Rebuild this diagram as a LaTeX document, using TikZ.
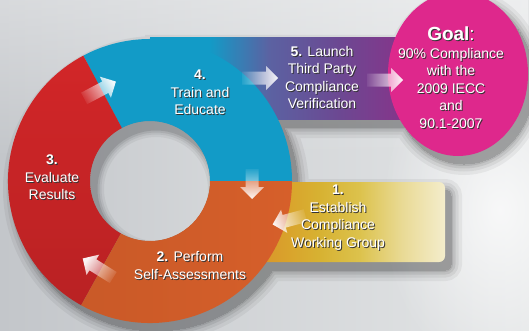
\documentclass[tikz,border=0pt]{standalone}
\usepackage{fontspec}
\setmainfont{Liberation Sans}
\usetikzlibrary{fadings,calc}
\definecolor{bgL}{HTML}{C3C6CA}
\definecolor{bgR}{HTML}{E4E6E7}
\definecolor{ringblue}{HTML}{129BC7}
\definecolor{ringred}{HTML}{D22628}
\definecolor{ringorange}{HTML}{D65F2A}
\definecolor{goalpink}{HTML}{DE288C}
\definecolor{bandB}{HTML}{5B62A2}
\definecolor{bandC}{HTML}{6C4892}
\definecolor{bandD}{HTML}{8C3088}
\definecolor{goldA}{HTML}{D8902A}
\definecolor{goldB}{HTML}{D9A42C}
\definecolor{goldC}{HTML}{D7B232}
\definecolor{goldD}{HTML}{DCC24C}
\definecolor{goldE}{HTML}{E9DA95}
\definecolor{goldF}{HTML}{F4EDCC}
\definecolor{tshadow}{HTML}{333333}
\pgfdeclarehorizontalshading{bandshade}{100bp}{color(0bp)=(ringblue); color(25bp)=(ringblue); color(36bp)=(ringblue); color(47bp)=(bandB); color(60bp)=(bandC); color(75bp)=(bandD); color(100bp)=(bandD)}
\pgfdeclarehorizontalshading{goldshade}{100bp}{color(0bp)=(goldA); color(25bp)=(goldA); color(35bp)=(goldB); color(43bp)=(goldC); color(53bp)=(goldD); color(64bp)=(goldE); color(75bp)=(goldF); color(100bp)=(goldF)}
\tikzfading[name=arrowfade, left color=transparent!92, right color=transparent!5]
\tikzfading[name=glowfade, inner color=transparent!0, outer color=transparent!100]
\tikzfading[name=topfade, top color=transparent!0, bottom color=transparent!100]
\newcommand\sh[1]{\leavevmode\rlap{\kern1pt\raisebox{-1pt}{\textcolor{tshadow}{#1}}}#1}
\newcommand\blockarrow[4]{% x, y, angle, length
  \begin{scope}[shift={(#1,#2)}, rotate=#3]
    \fill[white, path fading=arrowfade, fading angle=#3]
      (-#4/2,-6.5) -- (#4/2-12,-6.5) -- (#4/2-12,-12) -- (#4/2,0)
      -- (#4/2-12,12) -- (#4/2-12,6.5) -- (-#4/2,6.5) -- cycle;
  \end{scope}}
\tikzset{
  txt/.style={text=white, align=center, inner sep=0pt,
    font=\fontsize{14}{17.5}\selectfont}
}
\begin{document}
\begin{tikzpicture}[x=1pt,y=1pt]
\useasboundingbox (0,0) rectangle (529,330);
% background
\shade[left color=bgL, right color=bgR] (0,0) rectangle (529,330);
\fill[white, opacity=0.35, path fading=topfade] (0,170) rectangle (529,330);
\fill[white, opacity=0.75, path fading=glowfade] (500,120) ellipse[x radius=120, y radius=170];
\coordinate (C) at (150,149);
% soft shadows
\foreach \w/\o in {22/0.05,15/0.06,9/0.08,4/0.09,0/0.11}{
  \begin{scope}[transparency group, opacity=\o, shift={(156,141)}]
    \fill[black, draw=black, line width=\w pt] (0,0) circle[radius=142];
    \fill[black, draw=black, line width=\w pt] (0,143) rectangle (270,62);
    \fill[black, draw=black, line width=\w pt, rounded corners=6pt] (100,-1) rectangle (295,-81);
    \fill[black, draw=black, line width=\w pt] (308,107) ellipse[x radius=70, y radius=82];
  \end{scope}
}
% the hole
\begin{scope}
  \clip (C) circle[radius=60];
  \shade[left color=bgL!80!bgR, right color=bgL!50!bgR] (90,89) rectangle (210,209);
  \foreach \w/\o in {16/0.05,11/0.06,7/0.08,3/0.10}{
    \fill[black, opacity=\o, even odd rule] (C) circle[radius=80]
      ($(C)+(6,-8)$) circle[radius=60-\w/2];
  }
\end{scope}
% purple band
\shade[shading=bandshade] (150,292) rectangle (420,211);
% goal circle
\fill[goalpink] (458,256) ellipse[x radius=70, y radius=82];
% yellow band
\shade[shading=goldshade, rounded corners=6pt] (250,148) rectangle (445,68);
% ring segments
\fill[ringblue] ($(C)+(0:142)$) arc[start angle=0,end angle=118,radius=142]
  -- ($(C)+(118:60)$) arc[start angle=118,end angle=0,radius=60] -- cycle;
\shade[top color=ringred, bottom color=ringred!88!black]
  ($(C)+(118:142)$) arc[start angle=118,end angle=241,radius=142]
  -- ($(C)+(241:60)$) arc[start angle=241,end angle=118,radius=60] -- cycle;
\shade[left color=ringorange!94!black, right color=ringorange]
  ($(C)+(241:142)$) arc[start angle=241,end angle=360,radius=142]
  -- ($(C)+(360:60)$) arc[start angle=360,end angle=241,radius=60] -- cycle;
% arrows
\blockarrow{100}{240}{28}{36}
\blockarrow{260}{252}{0}{36}
\blockarrow{385}{250}{0}{36}
\blockarrow{252}{146}{-90}{30}
\blockarrow{289}{110}{195}{34}
\blockarrow{98}{62}{148}{36}
% texts
\node[txt] (t4) at (200,237) {\sh{\textbf{4.}}\\\sh{Train and}\\\sh{Educate}};
\node[txt] (t5) at (322,252) {\sh{\textbf{5.} Launch}\\\sh{Third Party}\\\sh{Compliance}\\\sh{Verification}};
\node[txt] (goal) at (451,252) {{\fontsize{19}{21}\selectfont\sh{\textbf{Goal}:}}\\\sh{90\% Compliance}\\\sh{with the}\\\sh{2009 IECC}\\\sh{and}\\\sh{90.1-2007}};
\node[txt] (t3) at (52,152) {\sh{\textbf{3.}}\\\sh{Evaluate}\\\sh{Results}};
\node[txt] (t2) at (190,64) {\sh{\textbf{2.} Perform}\\\sh{Self-Assessments}};
\node[txt] (t1) at (338,112) {\sh{\textbf{1.}}\\\sh{Establish}\\\sh{Compliance}\\\sh{Working Group}};
\end{tikzpicture}
\end{document}
